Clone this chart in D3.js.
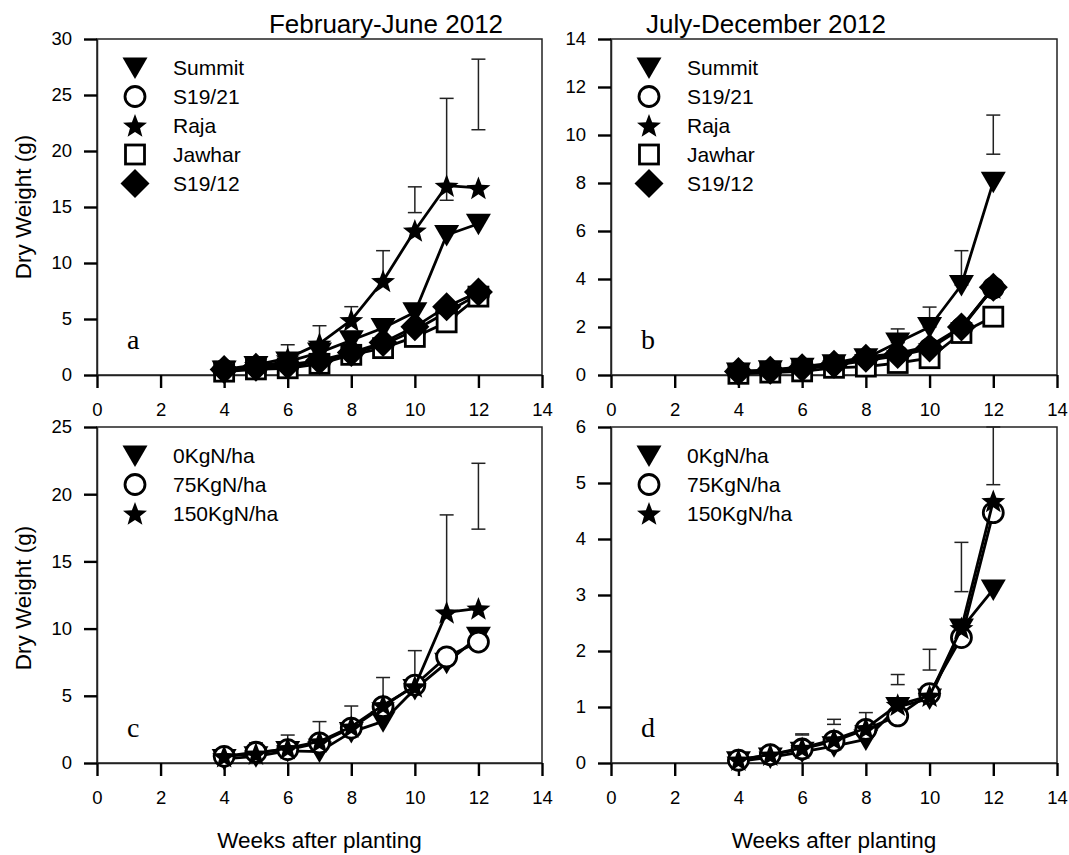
<!DOCTYPE html>
<html>
<head>
<meta charset="utf-8">
<script src="https://cdn.jsdelivr.net/npm/d3@7"></script>
<style>
  body { margin: 0; background: #fff; }
  svg { display: block; }
  text { fill: #000; }
</style>
</head>
<body>
<svg id="chart" width="1069" height="855"></svg>
<script>
// ---- shared categories ----
const weeks = [4, 5, 6, 7, 8, 9, 10, 11, 12];
const xTicks = [0, 2, 4, 6, 8, 10, 12, 14];
const cultivars = ["Summit", "S19/21", "Raja", "Jawhar", "S19/12"];
const cultivarShapes = ["triangle", "circle", "star", "square", "diamond"];
const nitrogenRates = ["0KgN/ha", "75KgN/ha", "150KgN/ha"];
const nitrogenShapes = ["triangle", "circle", "star"];

// ---- (a) cultivars, February-June 2012 ----
const summitA = [0.4, 0.8, 1.2, 2.0, 3.1, 4.2, 5.6, 12.5, 13.5];
const s1921A  = [0.4, 0.6, 0.8, 1.2, 1.9, 2.7, 4.0, 5.6, 7.2];
const rajaA   = [0.5, 0.9, 1.5, 2.8, 4.9, 8.4, 12.9, 16.9, 16.7];
const jawharA = [0.3, 0.5, 0.6, 1.0, 1.8, 2.4, 3.4, 4.7, 7.0];
const s1912A  = [0.5, 0.7, 0.9, 1.3, 2.0, 2.9, 4.3, 6.1, 7.4];
const errWeeksA = [5, 6, 7, 8, 9, 10, 11, 12];
const errLowA   = [0.9, 1.5, 2.8, 4.9, 8.4, 14.5, 15.6, 21.9];
const errHighA  = [1.3, 2.7, 4.4, 6.1, 11.1, 16.8, 24.7, 28.2];
const yTicksA = [0, 5, 10, 15, 20, 25, 30];

// ---- (b) cultivars, July-December 2012 ----
const summitB = [0.1, 0.2, 0.3, 0.45, 0.7, 1.35, 2.0, 3.75, 8.05];
const s1921B  = [0.1, 0.15, 0.25, 0.4, 0.6, 0.8, 1.1, 1.95, 3.63];
const rajaB   = [0.15, 0.2, 0.35, 0.5, 0.75, 0.9, 1.2, 2.0, 3.64];
const jawharB = [0.05, 0.1, 0.15, 0.3, 0.35, 0.5, 0.7, 1.75, 2.43];
const s1912B  = [0.15, 0.2, 0.3, 0.45, 0.7, 0.85, 1.12, 2.0, 3.66];
const errWeeksB = [6, 7, 8, 9, 10, 11, 12];
const errLowB   = [0.3, 0.45, 0.7, 1.35, 2.0, 3.75, 9.2];
const errHighB  = [0.45, 0.65, 0.95, 1.92, 2.83, 5.18, 10.83];
const yTicksB = [0, 2, 4, 6, 8, 10, 12, 14];

// ---- (c) nitrogen rates, February-June 2012 ----
const n0C   = [0.3, 0.5, 0.9, 0.85, 2.3, 3.1, 5.5, 7.45, 9.4];
const n75C  = [0.5, 0.8, 1.0, 1.5, 2.6, 4.2, 5.8, 7.9, 9.0];
const n150C = [0.5, 0.7, 1.1, 1.6, 2.7, 4.3, 5.7, 11.2, 11.5];
const errWeeksC = [4, 5, 6, 7, 8, 9, 10, 11, 12];
const errLowC   = [0.5, 0.8, 1.1, 1.6, 2.7, 4.3, 5.8, 11.2, 17.4];
const errHighC  = [0.9, 1.5, 2.08, 3.08, 4.24, 6.36, 8.36, 18.46, 22.3];
const yTicksC = [0, 5, 10, 15, 20, 25];

// ---- (d) nitrogen rates, July-December 2012 ----
const n0D   = [0.03, 0.1, 0.2, 0.3, 0.42, 1.0, 1.15, 2.4, 3.1];
const n75D  = [0.05, 0.15, 0.25, 0.39, 0.6, 0.84, 1.24, 2.24, 4.47];
const n150D = [0.06, 0.15, 0.27, 0.42, 0.62, 1.04, 1.2, 2.41, 4.68];
const errWeeksD = [5, 6, 7, 8, 9, 10, 11, 12];
const errLowD   = [0.15, 0.5, 0.69, 0.62, 1.4, 1.66, 3.06, 4.97];
const errHighD  = [0.25, 0.52, 0.78, 0.9, 1.58, 2.03, 3.94, 6.0];
const yTicksD = [0, 1, 2, 3, 4, 5, 6];

const panels = [
  { letter: "a", left: 97,  top: 39,  right: 542,  bottom: 375, yMax: 30, yTicks: yTicksA,
    names: cultivars, shapes: cultivarShapes,
    series: [summitA, s1921A, rajaA, jawharA, s1912A],
    err: { w: errWeeksA, lo: errLowA, hi: errHighA } },
  { letter: "b", left: 611, top: 39,  right: 1057, bottom: 375, yMax: 14, yTicks: yTicksB,
    names: cultivars, shapes: cultivarShapes,
    series: [summitB, s1921B, rajaB, jawharB, s1912B],
    err: { w: errWeeksB, lo: errLowB, hi: errHighB } },
  { letter: "c", left: 97,  top: 427, right: 542,  bottom: 763, yMax: 25, yTicks: yTicksC,
    names: nitrogenRates, shapes: nitrogenShapes,
    series: [n0C, n75C, n150C],
    err: { w: errWeeksC, lo: errLowC, hi: errHighC } },
  { letter: "d", left: 611, top: 427, right: 1057, bottom: 763, yMax: 6, yTicks: yTicksD,
    names: nitrogenRates, shapes: nitrogenShapes,
    series: [n0D, n75D, n150D],
    err: { w: errWeeksD, lo: errLowD, hi: errHighD } }
];

const SANS = "'Liberation Sans', Arial, sans-serif";
const SERIF = "'Liberation Serif', 'Times New Roman', serif";
const svg = d3.select("#chart");

// marker outlines, centred on (0,0)
function starPath(R, r) {
  const pts = [];
  for (let i = 0; i < 10; i++) {
    const a = -Math.PI / 2 + i * Math.PI / 5;
    const rad = i % 2 === 0 ? R : r;
    pts.push([rad * Math.cos(a), rad * Math.sin(a) + 1.1]);
  }
  return "M" + pts.map(p => p[0].toFixed(2) + "," + p[1].toFixed(2)).join("L") + "Z";
}
const shapePaths = {
  triangle: "M-12.5,-10 L12.5,-10 L0,11.5 Z",
  star: starPath(12.6, 5.3),
  diamond: "M0,-14.5 L14.5,0 L0,14.5 L-14.5,0 Z"
};

function drawMarker(g, shape, cx, cy) {
  if (shape === "circle") {
    g.append("circle").attr("cx", cx).attr("cy", cy).attr("r", 10)
      .attr("fill", "#fff").attr("stroke", "#000").attr("stroke-width", 2.8);
  } else if (shape === "square") {
    g.append("rect").attr("x", cx - 9.5).attr("y", cy - 9.5).attr("width", 19).attr("height", 19)
      .attr("fill", "#fff").attr("stroke", "#000").attr("stroke-width", 2.8);
  } else {
    g.append("path").attr("d", shapePaths[shape])
      .attr("transform", `translate(${cx},${cy})`).attr("fill", "#000");
  }
}

panels.forEach(p => {
  const x = d3.scaleLinear().domain([0, 14]).range([p.left, p.right]);
  const y = d3.scaleLinear().domain([0, p.yMax]).range([p.bottom, p.top]);
  const g = svg.append("g");

  // frame
  g.append("rect").attr("x", p.left).attr("y", p.top)
    .attr("width", p.right - p.left).attr("height", p.bottom - p.top)
    .attr("fill", "none").attr("stroke", "#222").attr("stroke-width", 1.5);

  // axes
  const xAxis = g.append("g").attr("transform", `translate(0,${p.bottom})`)
    .call(d3.axisBottom(x).tickValues(xTicks).tickFormat(d3.format("d"))
      .tickSize(13).tickSizeOuter(0).tickPadding(15));
  const yAxis = g.append("g").attr("transform", `translate(${p.left},0)`)
    .call(d3.axisLeft(y).tickValues(p.yTicks).tickFormat(d3.format("d"))
      .tickSize(13).tickSizeOuter(0).tickPadding(12));
  [xAxis, yAxis].forEach(a => {
    a.select(".domain").attr("stroke", "#222").attr("stroke-width", 1.5);
    a.selectAll(".tick line").attr("stroke", "#000").attr("stroke-width", 2.4);
    a.selectAll(".tick text").style("font-size", "18.5px")
      .style("font-family", SANS).style("fill", "#000");
  });

  // error bars
  const eg = g.append("g").attr("stroke", "#222").attr("stroke-width", 1.5);
  p.err.w.forEach((w, i) => {
    const xc = x(w), y1 = y(p.err.lo[i]), y2 = y(p.err.hi[i]);
    eg.append("line").attr("x1", xc).attr("x2", xc).attr("y1", y1).attr("y2", y2);
    eg.append("line").attr("x1", xc - 7).attr("x2", xc + 7).attr("y1", y2).attr("y2", y2);
    eg.append("line").attr("x1", xc - 7).attr("x2", xc + 7).attr("y1", y1).attr("y2", y1);
  });

  // series: line then markers, in legend order
  const line = d3.line().x(d => x(d[0])).y(d => y(d[1]));
  p.series.forEach((vals, si) => {
    const pts = weeks.map((w, i) => [w, vals[i]]);
    const sg = g.append("g");
    sg.append("path").attr("d", line(pts)).attr("fill", "none")
      .attr("stroke", "#000").attr("stroke-width", 2.8).attr("stroke-linejoin", "round");
    pts.forEach(d => drawMarker(sg, p.shapes[si], x(d[0]), y(d[1])));
  });

  // legend
  const lg = g.append("g");
  p.names.forEach((name, i) => {
    const cy = p.top + 28.5 + i * 29;
    drawMarker(lg, p.shapes[i], p.left + 38, cy);
    lg.append("text").attr("x", p.left + 76).attr("y", cy + 7.5)
      .style("font-family", SANS).style("font-size", "21px").text(name);
  });

  // panel letter
  g.append("text").attr("x", p.left + 30).attr("y", p.bottom - 26)
    .style("font-family", SERIF).style("font-size", "28px").text(p.letter);
});

// column titles
svg.append("text").attr("x", 386).attr("y", 33).attr("text-anchor", "middle")
  .style("font-family", SANS).style("font-size", "26px").text("February-June 2012");
svg.append("text").attr("x", 766).attr("y", 33).attr("text-anchor", "middle")
  .style("font-family", SANS).style("font-size", "26px").text("July-December 2012");

// axis titles
[319.5, 834].forEach(cx => {
  svg.append("text").attr("x", cx).attr("y", 848).attr("text-anchor", "middle")
    .style("font-family", SANS).style("font-size", "22.5px").text("Weeks after planting");
});
[207, 598].forEach(cy => {
  svg.append("text").attr("transform", `translate(31,${cy}) rotate(-90)`)
    .attr("text-anchor", "middle")
    .style("font-family", SANS).style("font-size", "22.5px").text("Dry Weight (g)");
});
</script>
</body>
</html>
